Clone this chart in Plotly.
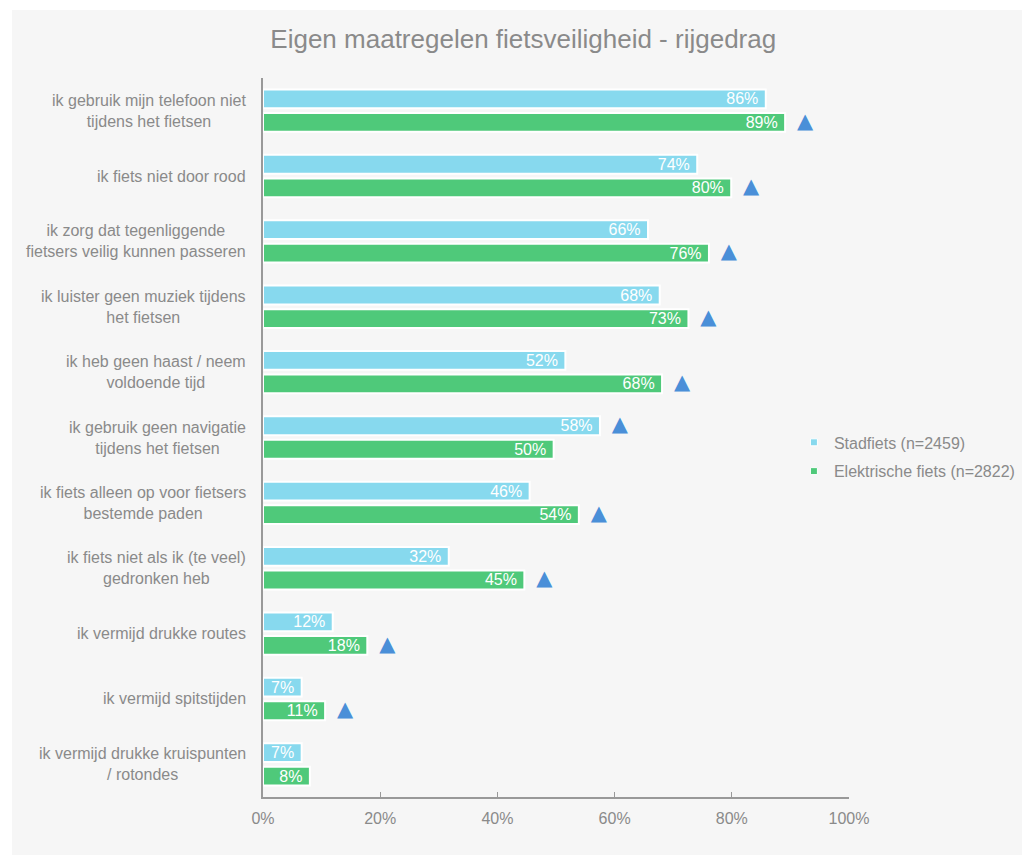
import plotly.graph_objects as go

categories = [
    "ik gebruik mijn telefoon niet<br>tijdens het fietsen",
    "ik fiets niet door rood",
    "ik zorg dat tegenliggende<br>fietsers veilig kunnen passeren",
    "ik luister geen muziek tijdens<br>het fietsen",
    "ik heb geen haast / neem<br>voldoende tijd",
    "ik gebruik geen navigatie<br>tijdens het fietsen",
    "ik fiets alleen op voor fietsers<br>bestemde paden",
    "ik fiets niet als ik (te veel)<br>gedronken heb",
    "ik vermijd drukke routes",
    "ik vermijd spitstijden",
    "ik vermijd drukke kruispunten<br>/ rotondes",
]
stadfiets = [85.8, 74.1, 65.7, 67.7, 51.6, 57.5, 45.5, 31.7, 11.9, 6.6, 6.6]
elektrisch = [89.1, 79.9, 76.1, 72.6, 68.1, 49.6, 53.9, 44.6, 17.8, 10.6, 8.0]
# which series is significantly higher (triangle marker): 's' stad, 'e' elektrisch, None
significant = ["e", "e", "e", "e", "e", "s", "e", "e", "e", "e", None]
x_ticks = [0, 20, 40, 60, 80, 100]
x_tick_labels = ["0%", "20%", "40%", "60%", "80%", "100%"]
series_names = ["Stadfiets (n=2459)", "Elektrische fiets (n=2822)"]

BLUE = "#87d9ee"
GREEN = "#4fc97a"
TRI = "#4a8fd8"
GRAY = "#8a8a8a"
BG = "#f6f6f6"
FONT = "Liberation Sans, Arial, sans-serif"

idx = list(range(len(categories)))
bargap = 0.28
d = (1 - bargap) / 4  # offset of each bar center from group center
tri_gap = 3.4  # distance of marker beyond bar end (in %)

fig = go.Figure()
for vals, color, name in [(stadfiets, BLUE, series_names[0]), (elektrisch, GREEN, series_names[1])]:
    fig.add_trace(go.Bar(
        y=idx, x=vals, orientation="h", name=name, showlegend=False,
        marker=dict(color=color, line=dict(color="white", width=2)),
        text=[f"{round(v)}%\u00a0" for v in vals],
        textposition="inside", insidetextanchor="end",
        textfont=dict(color="white", size=16, family=FONT),
        constraintext="none", cliponaxis=False,
        hoverinfo="skip",
    ))

tx, ty = [], []
for i, s in enumerate(significant):
    if s == "s":
        tx.append(stadfiets[i] + tri_gap)
        ty.append(i - d)
    elif s == "e":
        tx.append(elektrisch[i] + tri_gap)
        ty.append(i + d)
fig.add_trace(go.Scatter(
    x=tx, y=ty, mode="text", text=["▲"] * len(tx), showlegend=False, hoverinfo="skip",
    textposition="middle center",
    textfont=dict(family="DejaVu Sans", size=21, color=TRI), cliponaxis=False,
))

# legend entries
for color, name, grp in [(BLUE, series_names[0], "a"), (GREEN, series_names[1], "b")]:
    fig.add_trace(go.Scatter(
        x=[None], y=[None], mode="markers", name=name, legendgroup=grp,
        marker=dict(symbol="square", size=7, color=color, line=dict(color="white", width=1)),
    ))

# category labels as centered multi-line annotations
for i, c in enumerate(categories):
    fig.add_annotation(
        x=-0.025, xref="paper", y=i, yref="y", text=c, showarrow=False,
        xanchor="right", yanchor="middle", align="center",
        font=dict(size=16, color=GRAY, family=FONT),
    )

# gray background panel (white frame at top-left)
fig.add_shape(
    type="rect", xref="paper", yref="paper",
    x0=(12 - 263) / 586, x1=(1040 - 263) / 586,
    y0=-(80) / 719, y1=1 + (78 - 10) / 719,
    fillcolor=BG, line=dict(width=0), layer="below",
)

fig.update_layout(
    width=1022, height=855,
    margin=dict(l=263, r=173, t=78, b=58, autoexpand=False),
    paper_bgcolor="white", plot_bgcolor=BG,
    barmode="group", bargap=bargap, bargroupgap=0.2,
    font=dict(family=FONT, color=GRAY, size=16),
    title=dict(text="Eigen maatregelen fietsveiligheid - rijgedrag",
               x=0.512, xanchor="center", y=0.9544, yanchor="middle",
               font=dict(size=26, color=GRAY, family=FONT)),
    legend=dict(x=0.906, y=0.473, xanchor="left", yanchor="middle",
                font=dict(size=16, color=GRAY, family=FONT), bgcolor="rgba(0,0,0,0)",
                itemwidth=30, tracegroupgap=5),
    xaxis=dict(range=[0, 100], tickvals=x_ticks, ticktext=x_tick_labels,
               showgrid=False, zeroline=False, showline=True, linecolor="#999999",
               linewidth=2, ticks="inside", ticklen=5, tickcolor="#999999",
               ticklabelstandoff=6,
               tickfont=dict(size=16, color=GRAY, family=FONT), fixedrange=True),
    yaxis=dict(range=[len(categories) - 0.5, -0.5], showticklabels=False,
               showgrid=False, zeroline=False, showline=True, linecolor="#999999",
               linewidth=2, ticks="", fixedrange=True),
)

fig.write_html("out.html", config={"displayModeBar": False},
               post_script="document.body.style.margin='0';document.body.style.overflow='hidden';")
